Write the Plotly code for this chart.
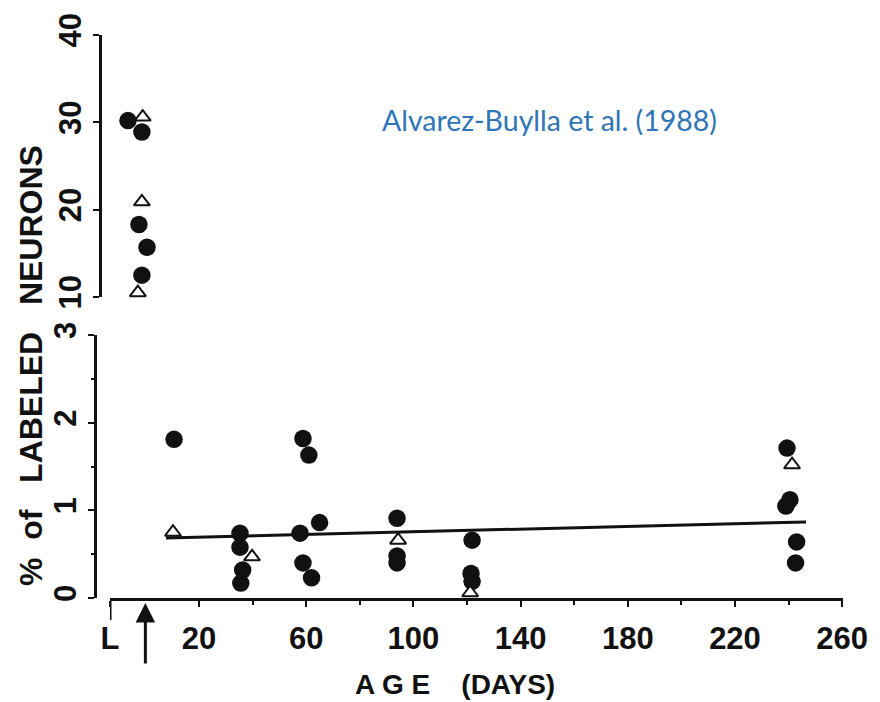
import plotly.graph_objects as go

# ---- data ----
# top panel (% labeled neurons, 10-40 scale)
top_circle_x = [-6.5, -1.3, -2.4, 0.6, -1.3]
top_circle_y = [30.2, 28.9, 18.3, 15.7, 12.5]
top_tri_x = [-1.0, -1.3, -2.8, 0.6]
top_tri_y = [30.6, 20.9, 10.5, 9.9]

# bottom panel (0-3 scale)
bot_circle_x = [10.7, 35.3, 35.3, 36.3, 35.6, 58.8, 61.0, 57.7, 65.0, 58.8, 62.0,
                93.9, 93.9, 93.9, 121.9, 121.5, 121.9, 239.4, 240.5, 239.0, 243.0, 242.6]
bot_circle_y = [1.81, 0.74, 0.58, 0.32, 0.17, 1.82, 1.63, 0.74, 0.86, 0.40, 0.23,
                0.91, 0.48, 0.40, 0.66, 0.28, 0.19, 1.71, 1.12, 1.05, 0.64, 0.40]
bot_tri_x = [10.3, 39.8, 94.3, 121.2, 241.3]
bot_tri_y = [0.75, 0.47, 0.66, 0.06, 1.52]

# regression line
line_x = [7.7, 246.5]
line_y = [0.685, 0.867]

x_tickvals = [-13.2, 20, 60, 100, 140, 180, 220, 260]
x_ticktext = ["L", "20", "60", "100", "140", "180", "220", "260"]
x_minor = [40, 80, 120, 160, 200, 240]
top_ticks = [10, 20, 30, 40]
bot_ticks = [0, 1, 2, 3]

X_RANGE = [-13.2, 260.3]
OFF = 8                      # page body margin
W, H = 880 - OFF, 702 - OFF
INK = "#111111"
FONT = "Liberation Sans"


def px(x):
    return (x - OFF) / W


def py(y):
    return 1 - (y - OFF) / H


fig = go.Figure()

fig.add_trace(go.Scatter(x=line_x, y=line_y, mode="lines", xaxis="x", yaxis="y",
                         line=dict(color=INK, width=3), hoverinfo="skip"))
for xs, ys, ax in [(top_circle_x, top_circle_y, "y2"), (bot_circle_x, bot_circle_y, "y")]:
    fig.add_trace(go.Scatter(x=xs, y=ys, mode="markers", xaxis="x", yaxis=ax,
                             cliponaxis=False,
                             marker=dict(symbol="circle", size=17.5, color=INK,
                                         line=dict(width=0))))
for xs, ys, ax in [(top_tri_x, top_tri_y, "y2"), (bot_tri_x, bot_tri_y, "y")]:
    fig.add_trace(go.Scatter(x=xs, y=ys, mode="markers", xaxis="x", yaxis=ax,
                             cliponaxis=False,
                             marker=dict(symbol="triangle-up", size=14, color="white",
                                         line=dict(width=2, color=INK))))

tickfont = dict(family=FONT, size=31, color=INK, weight="bold")

fig.update_layout(
    template="none",
    width=W, height=H, margin=dict(l=0, r=0, t=0, b=0, autoexpand=False),
    paper_bgcolor="white", plot_bgcolor="white", showlegend=False,
    xaxis=dict(domain=[px(110), px(843)], range=X_RANGE, anchor="y", automargin=False,
               showline=True, linewidth=3, linecolor=INK, showgrid=False, zeroline=False,
               ticks="outside", ticklen=6, tickwidth=2, tickcolor=INK,
               tickmode="array", tickvals=x_tickvals, ticktext=x_ticktext,
               tickfont=tickfont, ticklabelstandoff=5,
               minor=dict(tickmode="array", tickvals=x_minor, ticks="outside",
                          ticklen=4, tickwidth=2, tickcolor=INK, showgrid=False)),
    yaxis=dict(domain=[py(598), py(335)], range=[0, 3], anchor="free",
               automargin=False,
               position=px(95), showline=True, linewidth=3, linecolor=INK,
               showgrid=False, zeroline=False, ticks="outside", ticklen=6,
               tickwidth=2, tickcolor=INK, tickmode="array", tickvals=bot_ticks,
               tickangle=-90, tickfont=tickfont,
               minor=dict(tickmode="array", tickvals=[0.5, 1.5, 2.5], ticks="outside",
                          ticklen=3, tickwidth=2, tickcolor=INK, showgrid=False)),
    yaxis2=dict(domain=[py(297), py(35)], range=[10, 40], anchor="free",
                automargin=False,
                position=px(100), showline=True, linewidth=3, linecolor=INK,
                showgrid=False, zeroline=False, ticks="outside", ticklen=6,
                tickwidth=2, tickcolor=INK, tickmode="array", tickvals=top_ticks,
                tickangle=-90, tickfont=tickfont),
)

# long tick at the left end of the x axis
fig.add_shape(type="line", xref="x", yref="paper", x0=X_RANGE[0], x1=X_RANGE[0],
              y0=py(598), y1=py(620), line=dict(color=INK, width=3))

# hatching arrow at day 0
fig.add_annotation(x=0, xref="x", y=py(603), yref="paper", text="",
                   showarrow=True, arrowhead=2, arrowsize=1.3, arrowwidth=3,
                   arrowcolor=INK, ax=0, ay=62, axref="pixel", ayref="pixel")

# axis titles
fig.add_annotation(x=px(31), y=py(366), xref="paper", yref="paper",
                   xanchor="center", yanchor="middle",
                   text="%  of   LABELED   NEURONS", textangle=-90, showarrow=False,
                   font=dict(family=FONT, size=32, color=INK, weight="bold"))
fig.add_annotation(x=px(455), y=py(684), xref="paper", yref="paper",
                   xanchor="center", yanchor="middle",
                   text="A G E    (DAYS)", showarrow=False,
                   font=dict(family=FONT, size=28, color=INK, weight="bold"))

# citation
fig.add_annotation(x=px(549), y=py(120), xref="paper", yref="paper",
                   xanchor="center", yanchor="middle",
                   text="Alvarez-Buylla et al. (1988)", showarrow=False,
                   font=dict(family="Lato", size=28.5, color="#2E75B6"))

fig.write_html("out.html")
